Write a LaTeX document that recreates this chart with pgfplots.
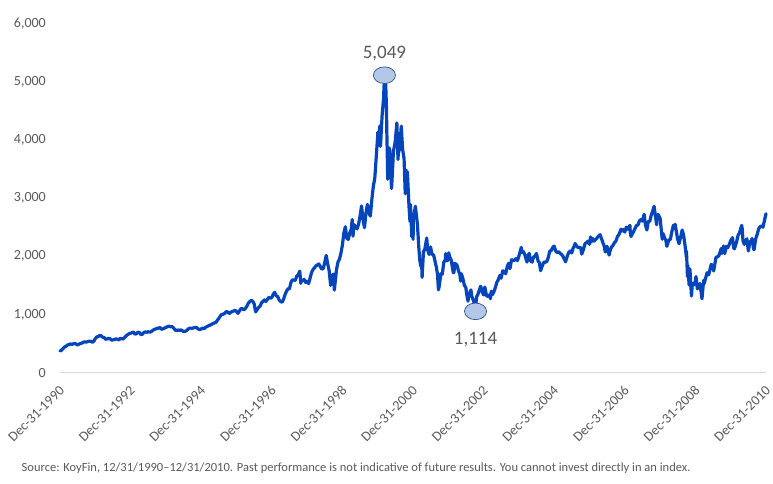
\documentclass[border=0pt]{standalone}
\usepackage{fontspec}
\setmainfont{Carlito}
\usepackage{pgfplots}
\pgfplotsset{compat=1.18}

\definecolor{linecol}{HTML}{0545BB}
\definecolor{txtgray}{HTML}{595959}
\definecolor{gridgray}{HTML}{D9D9D9}
\definecolor{ellfill}{HTML}{B4C7E7}
\definecolor{elldraw}{HTML}{2F528F}

\pgfplotsset{
  /pgf/number format/1000 sep={,},
  /pgf/number format/assume math mode=true,
}

% NASDAQ Composite, decimal years (1991.000 = Dec-31-1990)
\pgfplotstableread{
t v
1991.000 374
1991.042 385
1991.083 414
1991.125 440
1991.167 453
1991.208 475
1991.250 482
1991.292 495
1991.333 485
1991.375 495
1991.417 506
1991.458 490
1991.500 476
1991.542 492
1991.583 502
1991.625 510
1991.667 526
1991.708 530
1991.750 527
1991.792 535
1991.833 543
1991.875 540
1991.917 524
1991.958 540
1992.000 586
1992.042 615
1992.083 620
1992.125 640
1992.167 634
1992.208 610
1992.250 604
1992.292 575
1992.333 579
1992.375 590
1992.417 585
1992.458 560
1992.500 564
1992.542 570
1992.583 581
1992.625 575
1992.667 563
1992.708 590
1992.750 583
1992.792 580
1992.833 605
1992.875 635
1992.917 653
1992.958 670
1993.000 677
1993.042 690
1993.083 696
1993.125 660
1993.167 671
1993.208 695
1993.250 690
1993.292 655
1993.333 661
1993.375 690
1993.417 700
1993.458 695
1993.500 704
1993.542 695
1993.583 705
1993.625 725
1993.667 743
1993.708 750
1993.750 763
1993.792 765
1993.833 779
1993.875 745
1993.917 754
1993.958 765
1994.000 777
1994.042 790
1994.083 800
1994.125 790
1994.167 793
1994.208 775
1994.250 744
1994.292 720
1994.333 734
1994.375 725
1994.417 735
1994.458 725
1994.500 706
1994.542 710
1994.583 722
1994.625 745
1994.667 766
1994.708 765
1994.750 764
1994.792 770
1994.833 778
1994.875 775
1994.917 750
1994.958 740
1995.000 752
1995.042 765
1995.083 755
1995.125 780
1995.167 794
1995.208 805
1995.250 817
1995.292 830
1995.333 844
1995.375 855
1995.417 865
1995.458 900
1995.500 934
1995.542 975
1995.583 1001
1995.625 1005
1995.667 1020
1995.708 1050
1995.750 1044
1995.792 1015
1995.833 1036
1995.875 1050
1995.917 1059
1995.958 1070
1996.000 1052
1996.042 1020
1996.083 1060
1996.125 1100
1996.167 1100
1996.208 1080
1996.250 1101
1996.292 1140
1996.333 1191
1996.375 1220
1996.417 1243
1996.458 1230
1996.500 1185
1996.542 1045
1996.583 1081
1996.625 1120
1996.667 1142
1996.708 1200
1996.750 1227
1996.792 1250
1996.833 1222
1996.875 1260
1996.917 1293
1996.958 1280
1997.000 1291
1997.042 1350
1997.083 1380
1997.125 1320
1997.167 1309
1997.208 1250
1997.250 1222
1997.292 1210
1997.333 1261
1997.375 1340
1997.417 1400
1997.458 1440
1997.500 1442
1997.542 1550
1997.583 1594
1997.625 1590
1997.667 1587
1997.708 1660
1997.750 1686
1997.792 1745
1997.822 1535
1997.833 1594
1997.875 1580
1997.917 1601
1997.958 1550
1998.000 1570
1998.042 1530
1998.083 1619
1998.125 1720
1998.167 1771
1998.208 1800
1998.250 1836
1998.292 1850
1998.333 1868
1998.375 1820
1998.417 1779
1998.458 1790
1998.500 1895
1998.542 2014
1998.583 1872
1998.625 1750
1998.667 1499
1998.708 1660
1998.750 1694
1998.772 1419
1998.833 1771
1998.875 1900
1998.917 1950
1998.958 2050
1999.000 2193
1999.042 2400
1999.083 2506
1999.125 2310
1999.167 2288
1999.208 2400
1999.250 2461
1999.278 2630
1999.300 2345
1999.333 2543
1999.375 2500
1999.417 2471
1999.458 2550
1999.500 2686
1999.542 2864
1999.583 2638
1999.625 2490
1999.667 2739
1999.708 2890
1999.750 2746
1999.792 2690
1999.833 2966
1999.875 3200
1999.917 3336
1999.958 3700
2000.000 4069
2000.003 4131
2000.010 3901
2000.038 4064
2000.057 4235
2000.076 3887
2000.083 3940
2000.125 4420
2000.164 4697
2000.190 5049
2000.203 4583
2000.227 4963
2000.247 4573
2000.258 4149
2000.285 3321
2000.300 3644
2000.325 3861
2000.342 3817
2000.392 3164
2000.414 3401
2000.445 3800
2000.496 3966
2000.543 4290
2000.575 3663
2000.583 3767
2000.622 3850
2000.664 4206
2000.668 4234
2000.705 3835
2000.747 3673
2000.780 3074
2000.800 3483
2000.830 3370
2000.840 3451
2000.885 2875
2000.914 2598
2000.927 2890
2000.967 2332
2001.000 2470
2001.003 2291
2001.008 2617
2001.066 2859
2001.083 2773
2001.125 2550
2001.164 2152
2001.194 1923
2001.222 1830
2001.247 1840
2001.258 1638
2001.296 2079
2001.333 2116
2001.389 2313
2001.414 2110
2001.458 2030
2001.496 2161
2001.540 2030
2001.581 2027
2001.622 1920
2001.664 1805
2001.693 1695
2001.721 1423
2001.747 1499
2001.789 1700
2001.830 1690
2001.872 1900
2001.914 1931
2001.926 2046
2001.967 1920
2002.000 1950
2002.011 2059
2002.040 1990
2002.083 1934
2002.140 1716
2002.164 1731
2002.175 1880
2002.205 1870
2002.247 1845
2002.288 1750
2002.329 1688
2002.348 1573
2002.370 1700
2002.414 1616
2002.455 1500
2002.496 1463
2002.522 1346
2002.558 1229
2002.581 1328
2002.641 1422
2002.664 1315
2002.705 1250
2002.747 1172
2002.771 1114
2002.803 1310
2002.830 1330
2002.872 1410
2002.914 1479
2002.920 1484
2002.958 1390
2003.000 1336
2003.036 1471
2003.083 1321
2003.125 1310
2003.164 1338
2003.192 1271
2003.217 1400
2003.247 1341
2003.292 1390
2003.333 1464
2003.375 1550
2003.414 1596
2003.458 1670
2003.496 1623
2003.542 1750
2003.581 1735
2003.625 1700
2003.664 1810
2003.708 1880
2003.747 1787
2003.792 1940
2003.830 1932
2003.875 1930
2003.914 1960
2003.958 1925
2004.000 2003
2004.068 2153
2004.083 2066
2004.125 2080
2004.164 2030
2004.230 1900
2004.247 1994
2004.292 2050
2004.329 1920
2004.375 1900
2004.414 1987
2004.458 2000
2004.496 2048
2004.542 1920
2004.581 1887
2004.614 1752
2004.664 1838
2004.708 1900
2004.747 1897
2004.792 1910
2004.830 1975
2004.875 2090
2004.914 2097
2004.958 2150
2005.000 2175
2005.042 2090
2005.083 2062
2005.125 2080
2005.164 2052
2005.208 2030
2005.247 1999
2005.323 1904
2005.329 1922
2005.375 2010
2005.414 2068
2005.458 2090
2005.496 2057
2005.542 2150
2005.581 2185
2005.589 2219
2005.664 2152
2005.708 2150
2005.747 2152
2005.781 2037
2005.830 2120
2005.875 2220
2005.914 2233
2005.958 2260
2006.000 2205
2006.030 2332
2006.055 2247
2006.083 2306
2006.125 2260
2006.164 2281
2006.208 2310
2006.247 2340
2006.299 2370
2006.329 2323
2006.375 2240
2006.414 2179
2006.447 2073
2006.496 2172
2006.555 2020
2006.581 2092
2006.625 2160
2006.664 2184
2006.708 2235
2006.747 2258
2006.792 2340
2006.830 2367
2006.893 2465
2006.914 2432
2006.958 2457
2007.000 2415
2007.042 2500
2007.083 2464
2007.145 2531
2007.156 2407
2007.175 2340
2007.247 2422
2007.292 2480
2007.329 2525
2007.375 2540
2007.414 2605
2007.458 2630
2007.496 2603
2007.548 2720
2007.581 2546
2007.625 2451
2007.664 2596
2007.708 2600
2007.747 2702
2007.792 2780
2007.830 2859
2007.901 2541
2007.914 2661
2007.942 2719
2008.000 2652
2008.060 2292
2008.083 2390
2008.125 2320
2008.164 2271
2008.192 2170
2008.247 2279
2008.292 2290
2008.329 2413
2008.375 2530
2008.414 2523
2008.427 2549
2008.496 2293
2008.537 2215
2008.581 2326
2008.625 2450
2008.664 2368
2008.708 2180
2008.745 1983
2008.747 2092
2008.775 1650
2008.784 1844
2008.822 1505
2008.830 1721
2008.845 1780
2008.888 1316
2008.914 1536
2008.958 1510
2009.000 1577
2009.016 1652
2009.055 1440
2009.083 1476
2009.125 1530
2009.164 1378
2009.186 1269
2009.233 1587
2009.247 1529
2009.292 1630
2009.329 1717
2009.375 1680
2009.414 1774
2009.447 1860
2009.496 1835
2009.518 1747
2009.581 1979
2009.625 1990
2009.664 2009
2009.729 2131
2009.747 2122
2009.751 2048
2009.797 2176
2009.830 2045
2009.875 2170
2009.914 2145
2009.958 2200
2010.000 2269
2010.052 2320
2010.083 2147
2010.104 2126
2010.164 2238
2010.208 2360
2010.247 2398
2010.310 2530
2010.329 2461
2010.348 2265
2010.384 2204
2010.414 2257
2010.458 2300
2010.496 2109
2010.501 2091
2010.542 2250
2010.581 2255
2010.605 2306
2010.647 2123
2010.664 2114
2010.708 2300
2010.747 2369
2010.792 2470
2010.830 2507
2010.875 2520
2010.914 2498
2010.958 2620
2011.000 2730
}\nasdaq

% highlighted extremes
\pgfplotstableread{
t v
2000.190 5049
}\peak
\pgfplotstableread{
t v
2002.771 1114
}\trough

\begin{document}
\begin{tikzpicture}
\path[use as bounding box] (0pt,0pt) rectangle (773pt,-483pt);
\begin{axis}[
  at={(60pt,-372.7pt)}, anchor=south west,
  scale only axis, width=706pt, height=349.4pt,
  xmin=1991, xmax=2011, ymin=0, ymax=6000,
  clip=false,
  axis lines*=left,
  x axis line style={draw=gridgray, line width=0.9pt},
  y axis line style={draw=none},
  major tick length=0pt,
  ytick={0,1000,2000,3000,4000,5000,6000},
  xtick={1991,1993,1995,1997,1999,2001,2003,2005,2007,2009,2011},
  xticklabels={Dec-31-1990,Dec-31-1992,Dec-31-1994,Dec-31-1996,Dec-31-1998,Dec-31-2000,Dec-31-2002,Dec-31-2004,Dec-31-2006,Dec-31-2008,Dec-31-2010},
  yticklabel style={font=\fontsize{14}{16}\selectfont, text=txtgray, anchor=east, inner sep=0pt, xshift=-14pt},
  xticklabel style={font=\fontsize{14}{16}\selectfont, text=txtgray, xshift=2pt, yshift=-15pt, rotate=45, anchor=east, inner sep=0pt},
]
\addplot[linecol, line width=3.2pt, line join=round, line cap=round] table[x=t, y=v] {\nasdaq};
\addplot[only marks, mark=*, mark size=8.3pt,
  mark options={xscale=1.33, yshift=3.5pt, fill=ellfill, draw=elldraw, line width=0.7pt},
  nodes near coords, point meta=explicit,
  nodes near coords style={font=\fontsize{19}{22}\selectfont, text=txtgray, anchor=center, yshift=21.5pt}]
  table[x=t, y=v, meta=v] {\peak};
\addplot[only marks, mark=*, mark size=8.3pt,
  mark options={xscale=1.33, yshift=-3.5pt, fill=ellfill, draw=elldraw, line width=0.7pt},
  nodes near coords, point meta=explicit,
  nodes near coords style={font=\fontsize{19}{22}\selectfont, text=txtgray, anchor=center, yshift=-28.5pt}]
  table[x=t, y=v, meta=v] {\trough};
\end{axis}
\node[anchor=west, inner sep=0pt, font=\fontsize{12.5}{15}\selectfont, text=txtgray] at (21.5pt,-468.5pt)
  {Source: KoyFin, 12/31/1990–12/31/2010. Past performance is not indicative of future results. You cannot invest directly in an index.};
\end{tikzpicture}
\end{document}
